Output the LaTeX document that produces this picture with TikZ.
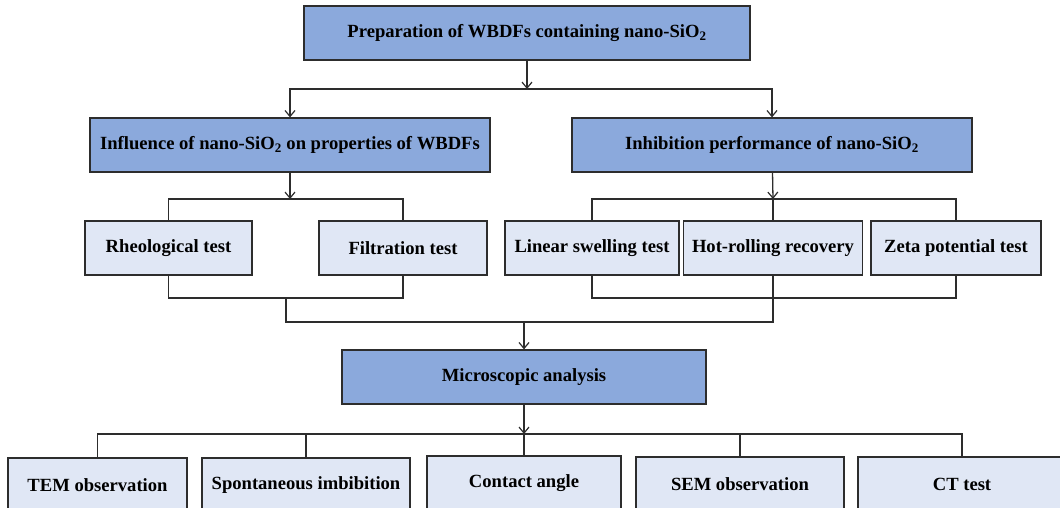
\documentclass[tikz,border=0pt]{standalone}
\usepackage{fontspec}
\setmainfont{Liberation Serif}
\definecolor{boxblue}{RGB}{139, 169, 220}
\definecolor{boxpale}{RGB}{224, 231, 245}
\definecolor{linegray}{RGB}{45, 45, 45}
\usetikzlibrary{
  arrows.meta,
  positioning,
}
\tikzset{
  >={Straight Barb[length=6pt,width=10pt,line width=1.2pt]},
  mainbox/.style={draw=linegray,line width=1.2pt,rectangle,fill=boxblue,minimum height=54,inner sep=0pt,font=\bfseries\fontsize{18.6}{21}\selectfont},
  testbox/.style={mainbox,fill=boxpale},
  link/.style={draw=linegray,line width=1.3pt},
}

\begin{document}
\begin{tikzpicture}[x=1pt,y=-1pt]
        \useasboundingbox (0,0) rectangle (1060,508);
        \clip (0,0) rectangle (1060,508);

        \node[mainbox,minimum width=446] (prep)  at (527,33)    {Preparation of WBDFs containing nano-SiO\textsubscript{2}};
        \node[mainbox,minimum width=400] (infl)  at (290,145)   {Influence of nano-SiO\textsubscript{2} on properties of WBDFs};
        \node[mainbox,minimum width=400] (inhib) at (772,145)   {Inhibition performance of nano-SiO\textsubscript{2}};

        \node[testbox,minimum width=167] (rheo)  at (168.5,248) {Rheological test};
        \node[testbox,minimum width=168] (filt)  at (403,248)   {Filtration test};
        \node[testbox,minimum width=174] (lin)   at (592,248)   {Linear swelling test};
        \node[testbox,minimum width=179] (hot)   at (773,248)   {Hot-rolling recovery};
        \node[testbox,minimum width=170] (zeta)  at (956,248)   {Zeta potential test};

        \node[mainbox,minimum width=364] (micro) at (524,377)   {Microscopic analysis};

        \node[testbox,minimum width=179] (tem)     at (97.5,485) {TEM observation};
        \node[testbox,minimum width=208] (spont)   at (306,485)  {Spontaneous imbibition};
        \node[testbox,minimum width=194] (contact) at (524,483)  {Contact angle};
        \node[testbox,minimum width=208] (sem)     at (740,484)  {SEM observation};
        \node[testbox,minimum width=208] (ct)      at (962,484)  {CT test};

        \coordinate (s1) at (527,89);
        \coordinate (s2) at (290,199);
        \coordinate (s3) at (773,199);
        \coordinate (j1) at (286,298);
        \coordinate (j2) at (773,298);
        \coordinate (m)  at (524,322);
        \coordinate (s4) at (524,434);

        \draw[link,->] (prep) -- (s1);
        \draw[link,<->] (infl.north) |- (s1) -| (inhib.north);

        \draw[link,->] (infl) -- (s2);
        \draw[link] (rheo.north) |- (s2) -| (filt.north);
        \draw[link] (rheo.south) |- (j1) -| (filt.south);

        \draw[link,->] (inhib) -- (s3);
        \draw[link] (lin.north) |- (s3) -| (zeta.north);
        \draw[link] (s3) -- (hot.north);
        \draw[link] (lin.south) |- (j2) -| (zeta.south);

        \draw[link] (j1) |- (m) -| (hot.south);
        \draw[link,->] (m) -- (micro.north);

        \draw[link,->] (micro) -- (s4);
        \draw[link] (tem.north) |- (s4) -| (ct.north);
        \draw[link] (spont.north) -- (spont.north |- s4);
        \draw[link] (contact.north) -- (s4);
        \draw[link] (sem.north) -- (sem.north |- s4);
    \end{tikzpicture}
\end{document}
